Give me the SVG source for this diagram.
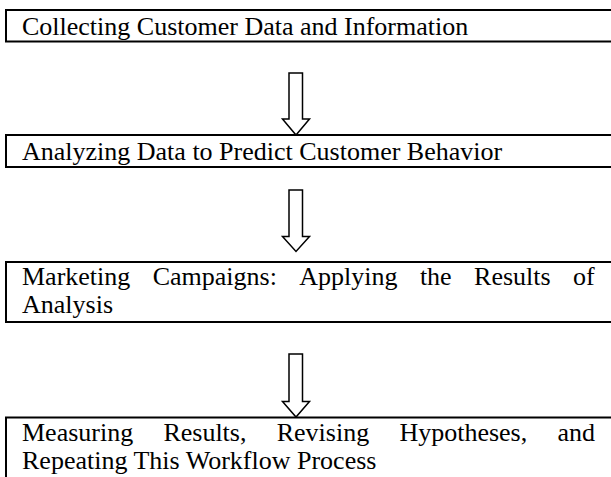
<svg xmlns="http://www.w3.org/2000/svg" width="611" height="477" viewBox="0 0 611 477">
  <style>
    .box { fill: #ffffff; stroke: #000000; stroke-width: 2; }
    .label { font-family: "Liberation Serif", "Times New Roman", serif; font-size: 26px; fill: #000000; }
    .arrow { fill: #ffffff; stroke: #000000; stroke-width: 1.5; stroke-linejoin: miter; }
  </style>
  <rect width="611" height="477" fill="#ffffff"/>

  <!-- block arrows between steps -->
  <g id="connectors">
    <path class="arrow" d="M289,73 H302.5 V119 H309.5 L296,135 L282.5,119 H289 Z"/>
    <path class="arrow" d="M289,190 H302.5 V236.5 H309.5 L296,251.5 L282.5,236.5 H289 Z"/>
    <path class="arrow" d="M289,354 H302.5 V401.5 H309.5 L296,417 L282.5,401.5 H289 Z"/>
  </g>

  <g id="step-collect">
    <rect class="box" x="6" y="10" width="700" height="31.5"/>
    <text class="label" x="22" y="35">Collecting Customer Data and Information</text>
  </g>

  <g id="step-analyze">
    <rect class="box" x="6" y="135" width="700" height="32"/>
    <text class="label" x="22" y="160">Analyzing Data to Predict Customer Behavior</text>
  </g>

  <g id="step-campaigns">
    <rect class="box" x="6" y="262" width="700" height="60"/>
    <text class="label" y="285">
      <tspan x="22">Marketing</tspan>
      <tspan x="152.7">Campaigns:</tspan>
      <tspan x="299.3">Applying</tspan>
      <tspan x="419.9">the</tspan>
      <tspan x="474.1">Results</tspan>
      <tspan x="573.1">of</tspan>
    </text>
    <text class="label" x="22" y="313">Analysis</text>
  </g>

  <g id="step-measure">
    <rect class="box" x="6" y="417.5" width="700" height="100"/>
    <text class="label" y="441">
      <tspan x="22">Measuring</tspan>
      <tspan x="163.4">Results,</tspan>
      <tspan x="276.7">Revising</tspan>
      <tspan x="399.4">Hypotheses,</tspan>
      <tspan x="557.5">and</tspan>
    </text>
    <text class="label" x="22" y="469">Repeating This Workflow Process</text>
  </g>
</svg>
